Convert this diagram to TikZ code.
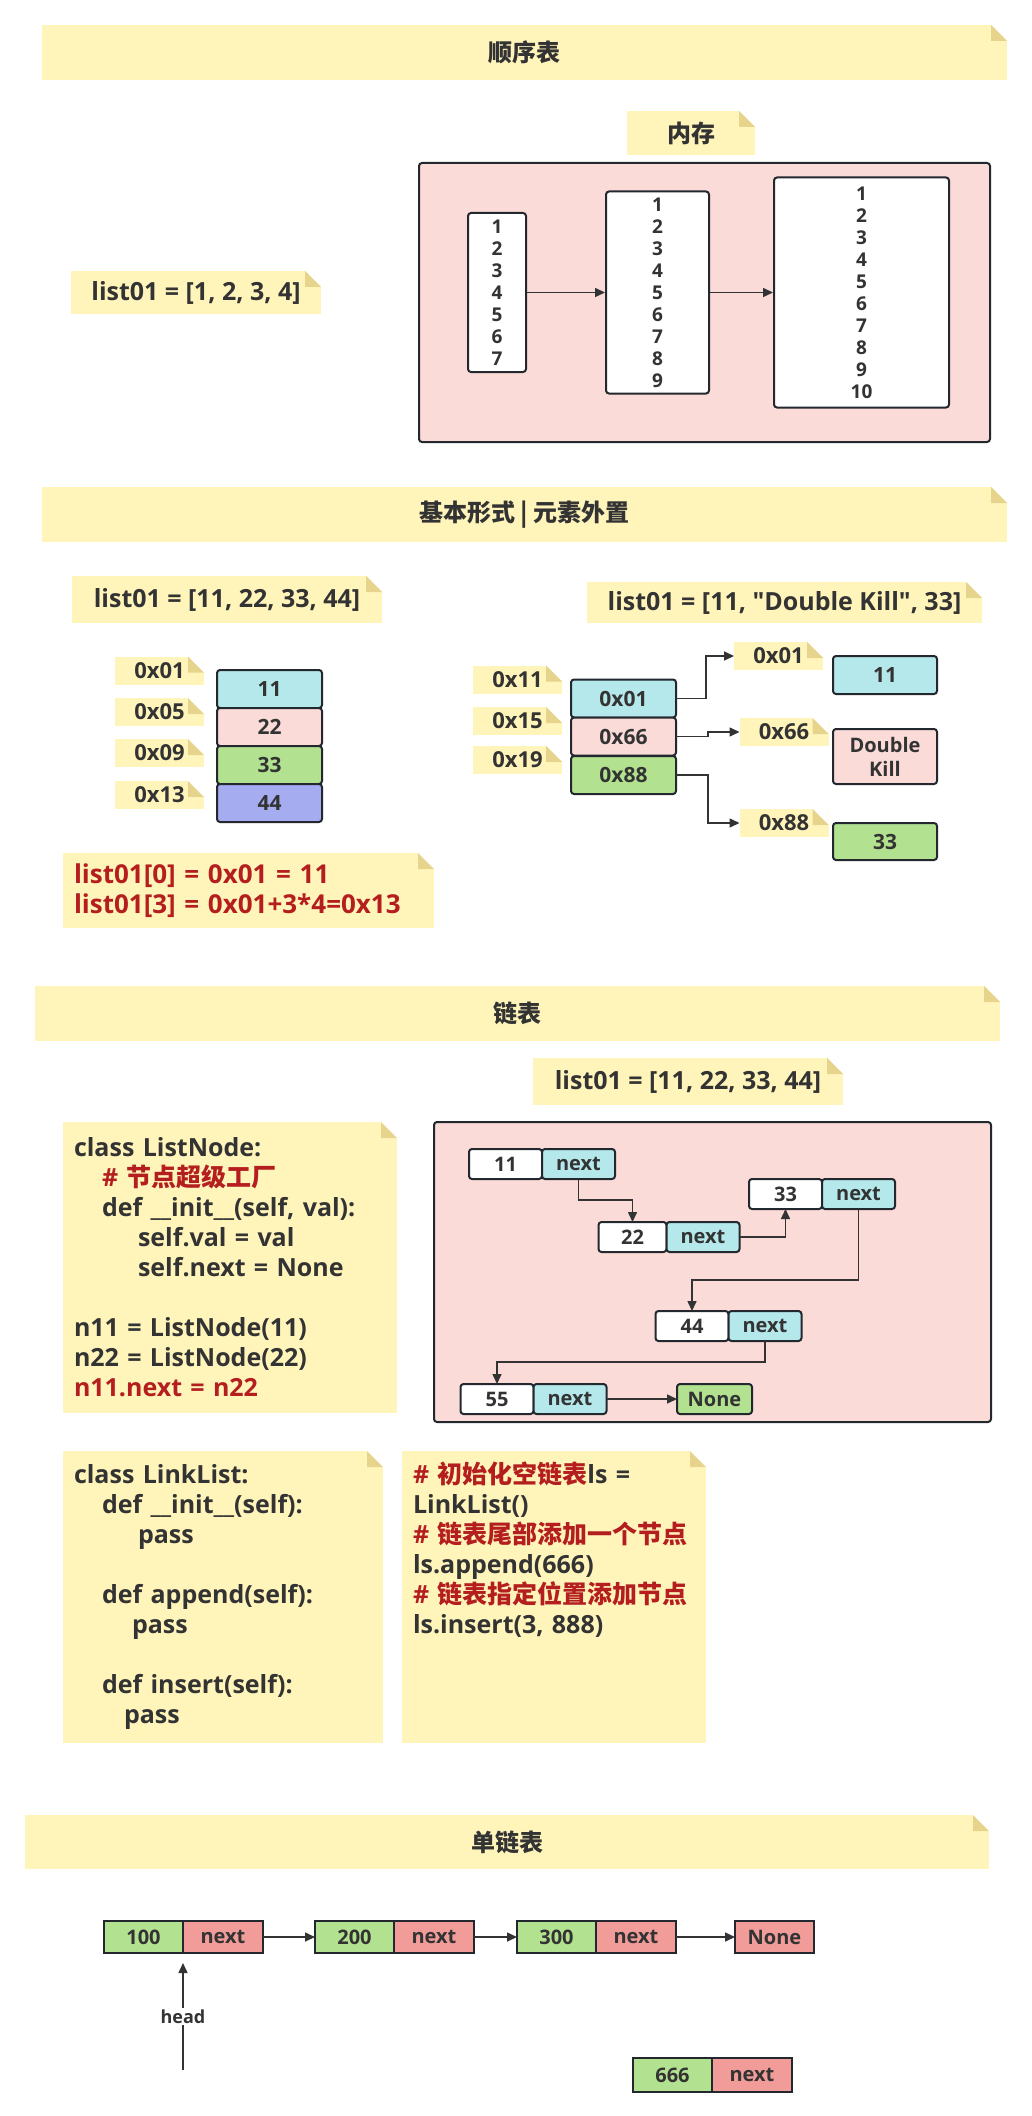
\documentclass[tikz,border=0pt]{standalone}
\usepackage{fontspec}
\setmainfont{Open Sans}[Ligatures=TeXOff]
\newfontfamily\cjk{Noto Sans CJK SC}
\usetikzlibrary{positioning,arrows.meta,calc}

\definecolor{notefill}{HTML}{FFF5BB}
\definecolor{foldc}{HTML}{E6D38C}
\definecolor{pinkbg}{HTML}{FADBD8}
\definecolor{cyanc}{HTML}{B4E8EA}
\definecolor{greenc}{HTML}{B2E290}
\definecolor{bluec}{HTML}{A5ADF0}
\definecolor{redcell}{HTML}{F19C99}
\definecolor{textc}{HTML}{333333}
\definecolor{redc}{HTML}{B41E1E}
\definecolor{linec}{HTML}{23272E}

\tikzset{
>={Triangle[width=9pt,length=10pt]},
sz/.style 2 args={minimum width=#1pt, minimum height=#2pt},
note/.style={fill=notefill, inner sep=0pt, outer sep=0pt, text=textc,
             font=\fontsize{25}{30}\selectfont\bfseries,
             path picture={
               \fill[white] ([xshift=-16pt]path picture bounding box.north east)
                 -- (path picture bounding box.north east)
                 -- ([yshift=-16pt]path picture bounding box.north east) -- cycle;
               \fill[foldc] ([xshift=-16pt]path picture bounding box.north east)
                 -- ([xshift=-16pt,yshift=-16pt]path picture bounding box.north east)
                 -- ([yshift=-16pt]path picture bounding box.north east) -- cycle;}},
title/.style={note, font=\cjk\bfseries\fontsize{24}{28}\selectfont},
addr/.style={note, sz={89}{28}, font=\fontsize{22}{26}\selectfont\bfseries},
code/.style={note, anchor=north west, inner sep=11pt, align=left},
membox/.style={draw=linec, line width=2pt, rounded corners=3pt, fill=pinkbg},
column/.style={draw=linec, line width=2pt, rounded corners=3pt, fill=white,
               align=center, text=textc, font=\fontsize{19}{22}\selectfont\bfseries},
cell/.style={draw=linec, line width=2pt, rounded corners=3pt, inner sep=0pt,
             outer sep=0pt, align=center, text=textc,
             font=\fontsize{21}{26}\selectfont\bfseries},
llval/.style={cell, fill=white, sz={73}{30}, font=\fontsize{20}{24}\selectfont\bfseries},
llnext/.style={llval, fill=cyanc},
sqval/.style={draw=linec, line width=2.5pt, inner sep=0pt, outer sep=0pt, fill=greenc,
              sz={79}{32}, text=textc, font=\fontsize{20}{24}\selectfont\bfseries},
sqnext/.style={sqval, fill=redcell, minimum width=80pt},
conn/.style={draw=textc, line width=1.5pt},
}

\begin{document}
\begin{tikzpicture}[x=1pt, y=-1pt]
\path[use as bounding box, fill=white] (0,0) rectangle (1032,2116);

% 顺序表
\node[title, sz={965}{55}] (t1) at (524.5,52.5) {顺序表};
\node[note, sz={128}{44}, font=\cjk\bfseries\fontsize{24}{28}\selectfont] (memlbl) at (691,133) {内存};
\node[note, sz={250}{43}] (l1) at (196,292.5) {list01 = [1, 2, 3, 4]};

\node[membox, sz={571}{279}] (mem1) at (704.5,302.5) {};
\node[column, sz={58}{159}] (col7) at (497,292.5) {1\\2\\3\\4\\5\\6\\7};
\node[column, sz={103}{202}] (col9) at (657.5,292.5) {1\\2\\3\\4\\5\\6\\7\\8\\9};
\node[column, sz={175}{230}] (col10) at (861.5,292.5) {1\\2\\3\\4\\5\\6\\7\\8\\9\\10};

\draw[conn,->] (col7) -- (col9);
\draw[conn,->] (col9) -- (col10);

% 基本形式 | 元素外置
\node[title, sz={965}{55}] (t2) at (524.5,514.5) {基本形式 | 元素外置};
\node[note, sz={310}{47}] (l2) at (227,599.5) {list01 = [11, 22, 33, 44]};
\node[note, sz={395}{41}] (l3) at (784.5,602.5) {list01 = [11, "Double Kill", 33]};

\node[addr] (a01) at (159.5,670.5) {0x01};
\node[addr] (a05) at (159.5,712) {0x05};
\node[addr] (a09) at (159.5,753) {0x09};
\node[addr] (a13) at (159.5,795) {0x13};

\node[cell, fill=cyanc, sz={105}{38}] (c11) at (269.5,689) {11};
\node[cell, fill=pinkbg, sz={105}{38}] (c22) at (269.5,727) {22};
\node[cell, fill=greenc, sz={105}{38}] (c33) at (269.5,765) {33};
\node[cell, fill=bluec, sz={105}{38}] (c44) at (269.5,803) {44};

\node[note, sz={371}{75}, text width=349pt, align=left, text=redc,
  font=\fontsize{26}{30}\selectfont\bfseries] (idx) at (248.5,890.5)
  {list01[0] = 0x01 = 11\\list01[3] = 0x01+3*4=0x13};

\node[addr] (a11) at (517.5,679.5) {0x11};
\node[addr] (a15) at (517.5,721) {0x15};
\node[addr] (a19) at (517.5,760) {0x19};

\node[cell, fill=cyanc, sz={105}{38}] (r01) at (623.5,698.5) {0x01};
\node[cell, fill=pinkbg, sz={105}{38}] (r66) at (623.5,736.5) {0x66};
\node[cell, fill=greenc, sz={105}{38}] (r88) at (623.5,775) {0x88};

\node[addr] (p01) at (778.5,656) {0x01};
\node[addr] (p66) at (784,732) {0x66};
\node[addr] (p88) at (784,823) {0x88};

\node[cell, fill=cyanc, sz={104}{38}] (v11) at (885,675) {11};
\node[cell, fill=pinkbg, sz={104}{55}, font=\fontsize{20}{24}\selectfont\bfseries] (vdk) at (885,756.5) {Double\\Kill};
\node[cell, fill=greenc, sz={104}{37}] (v33) at (885,841.5) {33};

\draw[conn,->] (r01.east) -- ++(30,0) |- (p01.west);
\draw[conn,->] (r66.east) -- ++(32,0) |- (p66.west);
\draw[conn,->] (r88.east) -- ++(32,0) |- (p88.west);

% 链表
\node[title, sz={965}{55}] (t3) at (517.5,1013.5) {链表};
\node[note, sz={310}{47}] (l4) at (688,1081.5) {list01 = [11, 22, 33, 44]};

\node[code, sz={334}{291}, text width=312pt] (code1) at (63,1122) {%
class ListNode:\\
\hspace*{28pt}\textcolor{redc}{\# {\cjk 节点超级工厂}}\\
\hspace*{28pt}def \_\_init\_\_(self, val):\\
\hspace*{64pt}self.val = val\\
\hspace*{64pt}self.next = None\\[30pt]
n11 = ListNode(11)\\
n22 = ListNode(22)\\
\textcolor{redc}{n11.next = n22}};

\node[membox, sz={557}{300}] (mem2) at (712.5,1272) {};

\node[llval] (n11) at (505.5,1164) {11};
\node[llnext, right=0pt of n11] (nx11) {next};
\node[llval] (n33) at (785.5,1194) {33};
\node[llnext, right=0pt of n33] (nx33) {next};
\node[llval, minimum width=68pt] (n22) at (632.5,1237) {22};
\node[llnext, right=0pt of n22] (nx22) {next};
\node[llval] (n44) at (692,1326) {44};
\node[llnext, right=0pt of n44] (nx44) {next};
\node[llval] (n55) at (497,1399) {55};
\node[llnext, right=0pt of n55] (nx55) {next};
\node[llval, fill=greenc, minimum width=75pt] (none1) at (714.5,1399) {None};

\draw[conn,->] (nx11.south) -- ++(0,21) -| (n22.north);
\draw[conn,->] (nx22.east) -| (n33.south);
\draw[conn,->] (nx33.south) -- ++(0,71) -| (n44.north);
\draw[conn,->] (nx44.south) -- ++(0,21) -| (n55.north);
\draw[conn,->] (nx55.east) -- (none1.west);

\node[code, sz={320}{292}, text width=298pt] (code2) at (63,1451) {%
class LinkList:\\
\hspace*{28pt}def \_\_init\_\_(self):\\
\hspace*{64pt}pass\\[30pt]
\hspace*{28pt}def append(self):\\
\hspace*{58pt}pass\\[30pt]
\hspace*{28pt}def insert(self):\\
\hspace*{50pt}pass};

\node[code, sz={304}{292}, text width=282pt] (code3) at (402,1451) {%
\parbox[t][270pt][t]{282pt}{%
\textcolor{redc}{\# {\cjk 初始化空链表}}ls =\\
LinkList()\\
\textcolor{redc}{\# {\cjk 链表尾部添加一个节点}}\\
ls.append(666)\\
\textcolor{redc}{\# {\cjk 链表指定位置添加节点}}\\
ls.insert(3, 888)}};

% 单链表
\node[title, sz={964}{54}] (t4) at (507,1842) {单链表};

\node[sqval] (a100) at (143.5,1937) {100};
\node[sqnext, right=0pt of a100] (nx100) {next};
\node[sqval] (a200) at (354.5,1937) {200};
\node[sqnext, right=0pt of a200] (nx200) {next};
\node[sqval] (a300) at (556.5,1937) {300};
\node[sqnext, right=0pt of a300] (nx300) {next};
\node[sqnext, minimum width=79pt] (none2) at (774.5,1937) {None};

\draw[conn,->] (nx100.east) -- (a200.west);
\draw[conn,->] (nx200.east) -- (a300.west);
\draw[conn,->] (nx300.east) -- (none2.west);

\coordinate (hd) at (183,2070);
\draw[conn,->] (hd) -- node[fill=white, inner sep=2pt, text=textc,
  font=\fontsize{18}{21}\selectfont\bfseries] (hl) {head} ([yshift=-10pt]a100.south east);

\node[sqval, sz={79}{34}] (a666) at (672.5,2075) {666};
\node[sqnext, minimum height=34pt, right=0pt of a666] (nx666) {next};

\end{tikzpicture}
\end{document}
